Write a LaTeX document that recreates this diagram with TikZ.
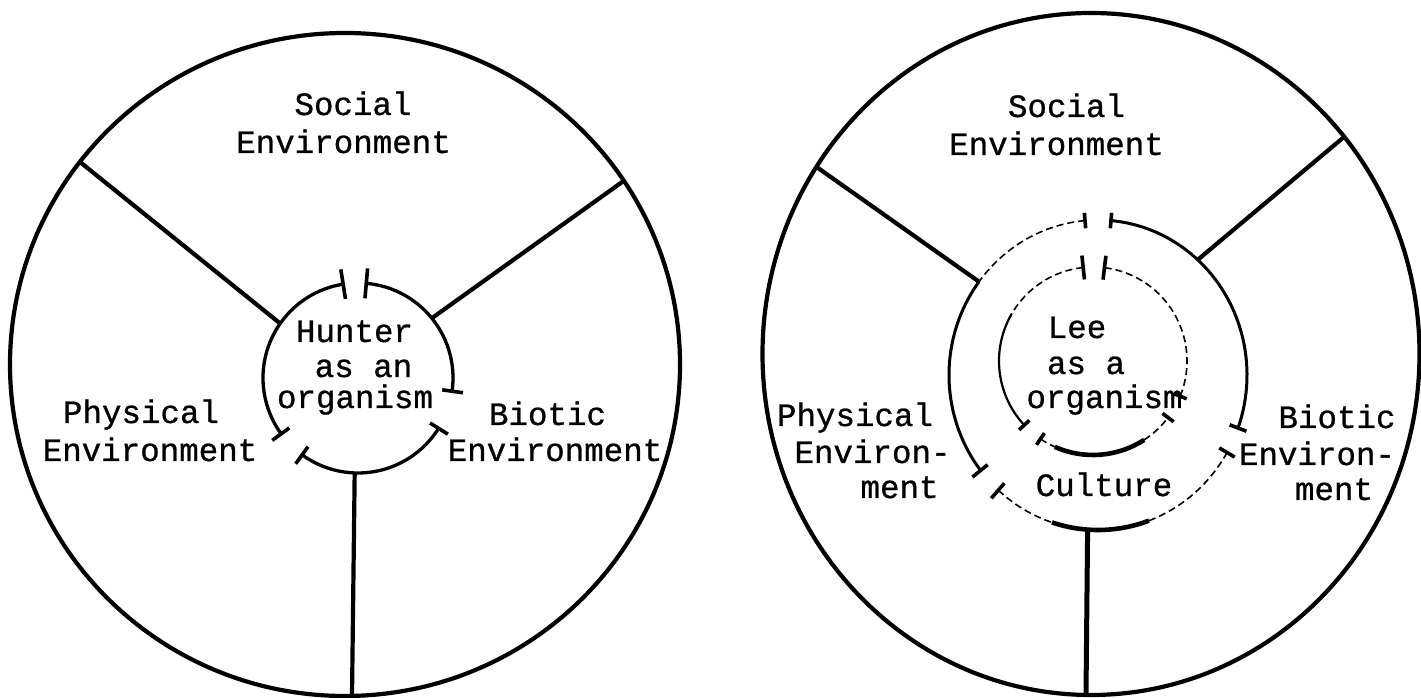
\documentclass[tikz,border=0pt]{standalone}
\usepackage{fontspec}
\newfontfamily\twfont[FakeBold=0.8]{Liberation Mono}
\usetikzlibrary{calc}
\begin{document}
\begin{tikzpicture}[x=1pt,y=1pt,
  outerline/.style={line width=4.2pt},
  spokeline/.style={line width=4.2pt},
  innerline/.style={line width=3.3pt},
  tickline/.style={line width=3.6pt},
  faintline/.style={line width=1.6pt, dash pattern=on 7pt off 4pt},
  thinline/.style={line width=2.2pt},
  ringline/.style={line width=3pt},
  heavyline/.style={line width=4.6pt},
  lbl/.style={font=\twfont\fontsize{32.5}{36}\selectfont, inner sep=0pt, anchor=base}]
\useasboundingbox (0,0) rectangle (1421,698);
\fill[white] (0,0) rectangle (1421,698);

% ===== left diagram =====
\coordinate (Lc) at (345,333.5);
\coordinate (Hc) at (358,320);
\draw[outerline] (Lc) ellipse[x radius=335pt, y radius=331.5pt];
\coordinate (Lo1) at (80,536);
\coordinate (Lo2) at (625,518);
\coordinate (Lo3) at (352,2);
\coordinate (Li1) at ($(Hc)+(145:95)$);
\coordinate (Li2) at ($(Hc)+(39:95)$);
\coordinate (Li3) at ($(Hc)+(268:95)$);
\draw[spokeline] (Lo1) -- (Li1);
\draw[spokeline] (Lo2) -- (Li2);
\draw[spokeline] (Lo3) -- (Li3);
\draw[innerline] ($(Hc)+(99:95)$) arc[start angle=99, end angle=216, radius=95pt];
\draw[innerline] ($(Hc)+(234:95)$) arc[start angle=234, end angle=328, radius=95pt];
\draw[innerline] ($(Hc)+(-8:95)$) arc[start angle=-8, end angle=85, radius=95pt];
\foreach \a/\r/\s in {99/80/110, 85/80/110, 216/85/106, 234/85/106, 328/85/106, -8/85/106}
  \draw[tickline] ($(Hc)+(\a:\r)$) -- ($(Hc)+(\a:\s)$);

\node[lbl] (LsocA) at (353,583) {Social};
\node[lbl] (LsocB) at (343.5,545) {Environment};
\node[lbl] (LhunA) at (354.5,356) {Hunter};
\node[lbl] (LhunB) at (363.5,321) {as an};
\node[lbl] (LhunC) at (355,290) {organism};
\node[lbl] (LphyA) at (141,275) {Physical};
\node[lbl] (LphyB) at (150,237) {Environment};
\node[lbl] (LbioA) at (547.5,273) {Biotic};
\node[lbl] (LbioB) at (555,237) {Environment};

% ===== right diagram =====
\coordinate (Rc) at (1091,344);
\coordinate (Cc) at (1098,323);
\coordinate (Ec) at (1093,337);
\draw[outerline] (Rc) ellipse[x radius=328.5pt, y radius=341pt];
\coordinate (Ro1) at (818,530);
\coordinate (Ro2) at (1344,561);
\coordinate (Ro3) at (1086,4);
\coordinate (Ri1) at ($(Cc)+(143:149 and 155)$);
\coordinate (Ri2) at ($(Cc)+(48:149 and 155)$);
\coordinate (Ri3) at ($(Cc)+(266:149 and 155)$);
\draw[spokeline] (Ro1) -- (Ri1);
\draw[spokeline] (Ro2) -- (Ri2);
\draw[spokeline, line width=5pt] (Ro3) -- (Ri3);

% culture ring
\draw[ringline] ($(Cc)+(-20:149 and 155)$) arc[start angle=-20, end angle=85, x radius=149pt, y radius=155pt];
\draw[faintline] ($(Cc)+(95:149 and 155)$) arc[start angle=95, end angle=143, x radius=149pt, y radius=155pt];
\draw[ringline] ($(Cc)+(143:149 and 155)$) arc[start angle=143, end angle=218, x radius=149pt, y radius=155pt];
\draw[faintline] ($(Cc)+(228:149 and 155)$) arc[start angle=228, end angle=252, x radius=149pt, y radius=155pt];
\draw[heavyline] ($(Cc)+(252:149 and 155)$) arc[start angle=252, end angle=290, x radius=149pt, y radius=155pt];
\draw[faintline] ($(Cc)+(290:149 and 155)$) arc[start angle=290, end angle=330, x radius=149pt, y radius=155pt];
\foreach \a/\r/\s in {85/0.95/1.05, 95/0.95/1.05, -20/0.94/1.06, -30/0.94/1.06, 218/0.94/1.07, 228/0.94/1.07}{
  \pgfmathsetmacro{\xa}{149*\r}
  \pgfmathsetmacro{\ya}{155*\r}
  \pgfmathsetmacro{\xb}{149*\s}
  \pgfmathsetmacro{\yb}{155*\s}
  \draw[tickline] ($(Cc)+(\a:\xa\space and \ya)$) -- ($(Cc)+(\a:\xb\space and \yb)$);
}

% Lee circle
\draw[faintline] ($(Ec)+(-22:94)$) arc[start angle=-22, end angle=83, radius=94pt];
\draw[faintline] ($(Ec)+(96:94)$) arc[start angle=96, end angle=150, radius=94pt];
\draw[thinline] ($(Ec)+(150:94)$) arc[start angle=150, end angle=223, radius=94pt];
\draw[faintline] ($(Ec)+(236:94)$) arc[start angle=236, end angle=246, radius=94pt];
\draw[heavyline] ($(Ec)+(246:94)$) arc[start angle=246, end angle=303, radius=94pt];
\draw[faintline] ($(Ec)+(303:94)$) arc[start angle=303, end angle=323, radius=94pt];
\foreach \a/\r/\s in {83/82/106, 96/82/106, -22/87/101, -37/87/101, 223/87/101, 236/87/101}
  \draw[tickline] ($(Ec)+(\a:\r)$) -- ($(Ec)+(\a:\s)$);

\node[lbl] (RsocA) at (1066.5,581) {Social};
\node[lbl] (RsocB) at (1056.5,543) {Environment};
\node[lbl] (RleeA) at (1077,360) {Lee};
\node[lbl] (RleeB) at (1086,324) {as a};
\node[lbl] (RleeC) at (1104.5,290) {organism};
\node[lbl] (Rcul) at (1104,202) {Culture};
\node[lbl] (RphyA) at (855,272) {Physical};
\node[lbl] (RphyB) at (872.5,235) {Environ-};
\node[lbl] (RphyC) at (899.5,200) {ment};
\node[lbl] (RbioA) at (1337,270) {Biotic};
\node[lbl] (RbioB) at (1317,233) {Environ-};
\node[lbl] (RbioC) at (1334,198) {ment};
\end{tikzpicture}
\end{document}
